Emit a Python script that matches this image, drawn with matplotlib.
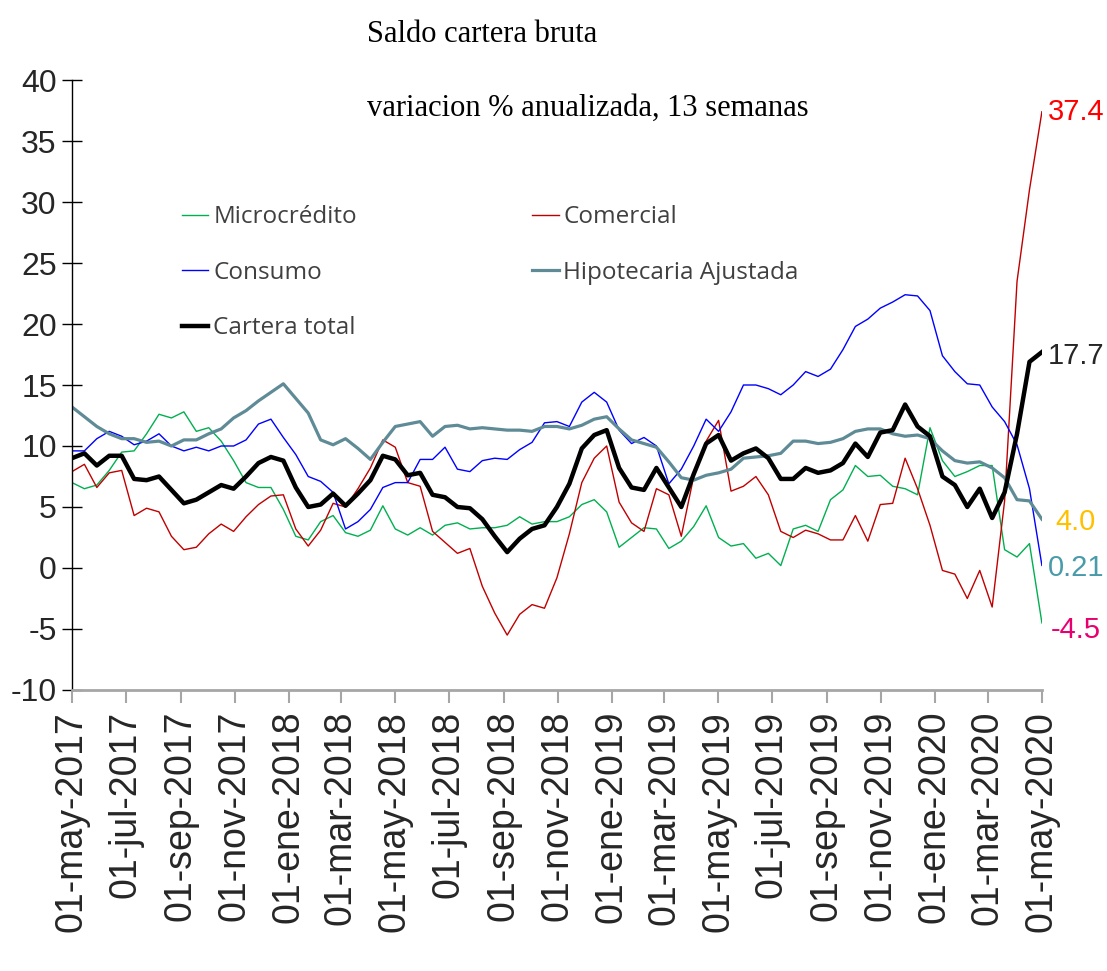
import numpy as np
import pandas as pd
import matplotlib
matplotlib.use('Agg')
import matplotlib.pyplot as plt

plt.rcParams['axes.unicode_minus'] = False

# biweekly readings, 01-may-2017 .. 01-may-2020
fechas = pd.date_range('2017-05-01', '2020-05-01', periods=79)

microcredito = [7.0, 6.5, 6.8, 8.0, 9.5, 9.6, 11.0, 12.6, 12.3, 12.8, 11.2, 11.5, 10.4, 8.8,
                7.0, 6.6, 6.6, 4.8, 2.6, 2.3, 3.8, 4.3, 2.9, 2.6, 3.1, 5.1, 3.2,
                2.7, 3.3, 2.7, 3.5, 3.7, 3.2, 3.3, 3.3, 3.5, 4.2, 3.6, 3.8, 3.8,
                4.2, 5.2, 5.6, 4.6, 1.7, 2.5, 3.3, 3.2, 1.6, 2.2, 3.4, 5.1, 2.5, 1.8,
                2.0, 0.8, 1.2, 0.2, 3.2, 3.5, 3.0, 5.6, 6.4, 8.4, 7.5, 7.6, 6.7,
                6.5, 6.0, 11.5, 8.8, 7.5, 7.9, 8.4, 8.4, 1.5, 0.9, 2.0, -4.5]

comercial = [7.9, 8.5, 6.6, 7.8, 8.0, 4.3, 4.9, 4.6, 2.6, 1.5, 1.7, 2.8, 3.6, 3.0,
             4.2, 5.2, 5.9, 6.0, 3.2, 1.8, 3.1, 5.3, 5.0, 6.5, 8.2, 10.5, 9.9,
             7.0, 6.7, 3.0, 2.1, 1.2, 1.6, -1.5, -3.7, -5.5, -3.8, -3.0, -3.3, -0.8,
             2.8, 7.0, 9.0, 10.0, 5.4, 3.7, 3.0, 6.5, 6.0, 2.6, 7.5, 10.4, 12.1, 6.3,
             6.7, 7.5, 6.0, 3.0, 2.5, 3.1, 2.8, 2.3, 2.3, 4.3, 2.2, 5.2, 5.3,
             9.0, 6.5, 3.5, -0.2, -0.5, -2.5, -0.2, -3.2, 5.5, 23.5, 31.0, 37.4]

consumo = [9.6, 9.6, 10.6, 11.2, 10.8, 10.1, 10.4, 11.0, 10.0, 9.6, 9.9, 9.6, 10.0, 10.0,
           10.5, 11.8, 12.2, 10.7, 9.3, 7.5, 7.1, 6.2, 3.2, 3.8, 4.8, 6.6, 7.0,
           7.0, 8.9, 8.9, 9.9, 8.1, 7.9, 8.8, 9.0, 8.9, 9.7, 10.3, 11.9, 12.0,
           11.6, 13.6, 14.4, 13.6, 11.3, 10.2, 10.7, 10.0, 6.9, 8.1, 10.0, 12.2, 11.2, 12.8,
           15.0, 15.0, 14.7, 14.2, 15.0, 16.1, 15.7, 16.3, 17.9, 19.8, 20.4, 21.3, 21.8,
           22.4, 22.3, 21.1, 17.4, 16.1, 15.1, 15.0, 13.2, 12.0, 10.1, 6.5, 0.21]

hipotecaria = [13.2, 12.4, 11.6, 11.0, 10.6, 10.6, 10.3, 10.4, 10.0, 10.5, 10.5, 11.0, 11.4, 12.3,
               12.9, 13.7, 14.4, 15.1, 13.9, 12.7, 10.5, 10.1, 10.6, 9.8, 8.9, 10.3, 11.6,
               11.8, 12.0, 10.8, 11.6, 11.7, 11.4, 11.5, 11.4, 11.3, 11.3, 11.2, 11.6, 11.6,
               11.4, 11.7, 12.2, 12.4, 11.4, 10.5, 10.2, 9.9, 8.7, 7.4, 7.2, 7.6, 7.8, 8.1,
               9.0, 9.1, 9.2, 9.4, 10.4, 10.4, 10.2, 10.3, 10.6, 11.2, 11.4, 11.4, 11.0,
               10.8, 10.9, 10.6, 9.6, 8.8, 8.6, 8.7, 8.2, 7.4, 5.6, 5.5, 4.0]

total = [9.0, 9.4, 8.4, 9.2, 9.2, 7.3, 7.2, 7.5, 6.4, 5.3, 5.6, 6.2, 6.8, 6.5,
         7.5, 8.6, 9.1, 8.8, 6.6, 5.0, 5.2, 6.1, 5.1, 6.1, 7.2, 9.2, 8.9,
         7.6, 7.8, 6.0, 5.8, 5.0, 4.9, 4.0, 2.6, 1.3, 2.4, 3.2, 3.5, 5.0,
         6.9, 9.8, 10.9, 11.3, 8.2, 6.6, 6.4, 8.2, 6.6, 5.0, 7.7, 10.2, 10.9, 8.8,
         9.4, 9.8, 9.0, 7.3, 7.3, 8.2, 7.8, 8.0, 8.6, 10.2, 9.1, 11.1, 11.3,
         13.4, 11.6, 10.8, 7.5, 6.8, 5.0, 6.5, 4.1, 6.2, 11.0, 16.9, 17.7]

tick_fechas = pd.date_range('2017-05-01', '2020-05-01', freq='2MS')
tick_labels = ['01-may-2017', '01-jul-2017', '01-sep-2017', '01-nov-2017',
               '01-ene-2018', '01-mar-2018', '01-may-2018', '01-jul-2018',
               '01-sep-2018', '01-nov-2018', '01-ene-2019', '01-mar-2019',
               '01-may-2019', '01-jul-2019', '01-sep-2019', '01-nov-2019',
               '01-ene-2020', '01-mar-2020', '01-may-2020']

# end labels (text, y value, colour)
end_labels = ['37.4', '17.7', '4.0', '0.21', '-4.5']
end_values = [comercial[-1], total[-1], hipotecaria[-1], consumo[-1], microcredito[-1]]
end_colors = ['#FF0000', '#262626', '#FFC000', '#4A9BAA', '#E8006F']
end_offsets = [0, -3, -2, -2, -5]

fig = plt.figure(figsize=(11.07, 9.71), dpi=100)
ax = fig.add_axes([0.0650, 0.2894, 0.8762, 0.6282])

l_mic, = ax.plot(fechas, microcredito, color='#00B050', lw=1.0, label='Microcrédito')
l_com, = ax.plot(fechas, comercial, color='#C00000', lw=1.0, label='Comercial')
l_con, = ax.plot(fechas, consumo, color='#0000FF', lw=1.0, label='Consumo')
l_hip, = ax.plot(fechas, hipotecaria, color='#5F8B96', lw=2.3, label='Hipotecaria Ajustada')
l_tot, = ax.plot(fechas, total, color='black', lw=3.2, label='Cartera total')

ax.set_xlim(pd.Timestamp('2017-05-01'), pd.Timestamp('2020-05-01'))
ax.set_ylim(-10, 40)
ax.set_yticks(np.arange(-10, 41, 5))
ax.set_xticks(tick_fechas)
ax.set_xticklabels(tick_labels, rotation=90, fontsize=27, family='Liberation Sans',
                   color='#262626', va='top', ha='center')
for t in ax.get_yticklabels():
    t.set_fontfamily('Liberation Sans')
    t.set_fontsize(23)
    t.set_color('#262626')

ax.spines['top'].set_visible(False)
ax.spines['right'].set_visible(False)
ax.spines['left'].set_color('black')
ax.spines['left'].set_linewidth(1.0)
ax.spines['bottom'].set_color('#A6A6A6')
ax.spines['bottom'].set_linewidth(2.0)
ax.tick_params(axis='y', direction='inout', length=14, width=1.0, color='black', pad=4)
ax.tick_params(axis='x', direction='out', length=9, width=1.5, color='#A6A6A6', pad=6)

ax.legend(handles=[l_mic, l_con, l_tot, l_com, l_hip], ncol=2, frameon=False,
          loc='upper left', bbox_to_anchor=(0.113, 0.795), borderpad=0, borderaxespad=0,
          handlelength=1.1, handletextpad=0.2, columnspacing=7.2, labelspacing=1.3,
          prop={'family': 'Open Sans', 'size': 17.5}, labelcolor='#404040')

fig.text(367 / 1107, 1 - 35 / 971, 'Saldo cartera bruta', family='Liberation Serif',
         fontsize=22, va='center', ha='left')
fig.text(367 / 1107, 1 - 108 / 971, 'variacion % anualizada, 13 semanas',
         family='Liberation Serif', fontsize=22, va='center', ha='left')

for txt, v, c, off in zip(end_labels, end_values, end_colors, end_offsets):
    ax.annotate(txt, xy=(1.035, v), xycoords=('axes fraction', 'data'),
                xytext=(0, off), textcoords='offset points', ha='center',
                va='center', color=c, fontsize=21, family='Liberation Sans',
                annotation_clip=False)

fig.savefig('out.png', dpi=100)
